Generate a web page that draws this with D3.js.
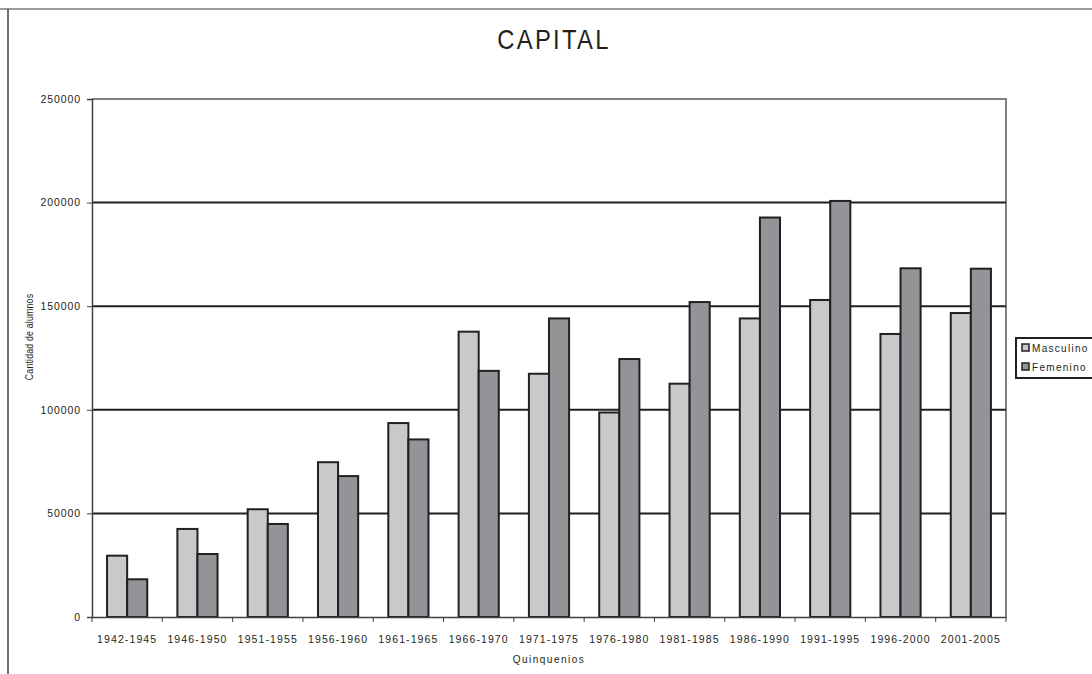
<!DOCTYPE html>
<html><head><meta charset="utf-8">
<script src="https://cdn.jsdelivr.net/npm/d3@7"></script>
<style>
html,body{margin:0;padding:0;background:#fff;}
svg text{font-family:"Liberation Sans",Arial,sans-serif;fill:#231f20;}
</style></head>
<body>
<svg id="chart" width="1092" height="674"></svg>
<script>
const categories = ["1942-1945","1946-1950","1951-1955","1956-1960","1961-1965","1966-1970","1971-1975","1976-1980","1981-1985","1986-1990","1991-1995","1996-2000","2001-2005"];
const masculino = [29600,42500,52000,74700,93600,137700,117400,98700,112600,144100,153000,136600,146700];
const femenino  = [18200,30400,44900,68000,85700,118800,144100,124500,152000,192800,200800,168300,168100];
const seriesNames = ["Masculino","Femenino"];
const yTicks = [0,50000,100000,150000,200000,250000];

const svg = d3.select("#chart");
const M = {left:92, right:1006, top:99, bottom:617};
const colors = {Masculino:"#c8c9cb", Femenino:"#939498"};
const ink = "#231f20";

// outer chart border
svg.append("line").attr("x1",0).attr("x2",1092).attr("y1",9).attr("y2",9)
  .attr("stroke","#77787b").attr("stroke-width",1.5);
svg.append("line").attr("x1",8).attr("x2",8).attr("y1",9).attr("y2",674)
  .attr("stroke","#414042").attr("stroke-width",1.5);

// title
svg.append("text").attr("transform","translate(554,49) scale(0.85,1)").attr("text-anchor","middle")
  .style("font-size","28px").style("letter-spacing","2.7px").text("CAPITAL");

const x0 = d3.scaleBand().domain(categories).range([M.left, M.right]).paddingInner(1.5/3.5).paddingOuter(0.75/3.5);
const x1 = d3.scaleBand().domain(seriesNames).range([0, x0.bandwidth()]);
const y = d3.scaleLinear().domain([0,250000]).range([M.bottom, M.top]);

// plot area border (top & right gray)
svg.append("path").attr("d",`M${M.left},${M.top}H${M.right}V${M.bottom}`)
  .attr("fill","none").attr("stroke","#808080").attr("stroke-width",2);

// gridlines
svg.append("g").selectAll("line").data(yTicks.filter(d=>d>0 && d<250000)).join("line")
  .attr("x1",M.left).attr("x2",M.right).attr("y1",d=>y(d)).attr("y2",d=>y(d))
  .attr("stroke",ink).attr("stroke-width",2);

// bars
const data = categories.map((c,i)=>({c, vals:[{s:"Masculino",v:masculino[i]},{s:"Femenino",v:femenino[i]}]}));
svg.append("g").selectAll("g").data(data).join("g")
  .attr("transform",d=>`translate(${x0(d.c)},0)`)
  .selectAll("rect").data(d=>d.vals).join("rect")
  .attr("x",d=>x1(d.s)).attr("width",x1.bandwidth())
  .attr("y",d=>y(d.v)).attr("height",d=>y(0)-y(d.v))
  .attr("fill",d=>colors[d.s]).attr("stroke",ink).attr("stroke-width",2);

// y axis
const yAxis = svg.append("g").attr("transform",`translate(${M.left},0)`)
  .call(d3.axisLeft(y).tickValues(yTicks).tickSize(5).tickPadding(6).tickFormat(d3.format("d")));
yAxis.select(".domain").attr("stroke","#404041").attr("stroke-width",1.5);
yAxis.selectAll(".tick line").attr("stroke","#404041");
yAxis.selectAll("text").style("font-size","10.5px").style("letter-spacing","0.9px").attr("fill",ink).attr("font-family",null);

// x axis
const xAxis = svg.append("g").attr("transform",`translate(0,${M.bottom})`)
  .call(d3.axisBottom(x0).tickSize(0).tickPadding(19));
xAxis.select(".domain").attr("stroke","#404041").attr("stroke-width",1.5);
xAxis.selectAll("text").style("font-size","10.5px").style("letter-spacing","1.1px").attr("fill",ink).attr("font-family",null);
// category boundary ticks
const bounds = d3.range(categories.length+1).map(i=>M.left + i*(M.right-M.left)/categories.length);
svg.append("g").selectAll("line").data(bounds).join("line")
  .attr("x1",d=>d).attr("x2",d=>d).attr("y1",M.bottom).attr("y2",M.bottom+5)
  .attr("stroke","#404041").attr("stroke-width",1);

// axis titles
svg.append("text").attr("x",549).attr("y",663).attr("text-anchor","middle")
  .style("font-size","10px").style("letter-spacing","1.5px").text("Quinquenios");
svg.append("text").attr("transform","translate(33,337) rotate(-90) scale(0.88,1)").attr("text-anchor","middle")
  .style("font-size","10px").style("letter-spacing","0.2px").text("Cantidad de alumnos");

// legend
const lg = svg.append("g");
lg.append("rect").attr("x",1016).attr("y",338).attr("width",100).attr("height",40)
  .attr("fill","#fff").attr("stroke",ink).attr("stroke-width",2);
seriesNames.forEach((s,i)=>{
  lg.append("rect").attr("x",1022).attr("y",344+i*19).attr("width",7).attr("height",7)
    .attr("fill",colors[s]).attr("stroke",ink).attr("stroke-width",1.5);
  lg.append("text").attr("x",1032).attr("y",352+i*19).style("font-size","10px")
    .style("letter-spacing","1.3px").text(s);
});
</script>
</body></html>
